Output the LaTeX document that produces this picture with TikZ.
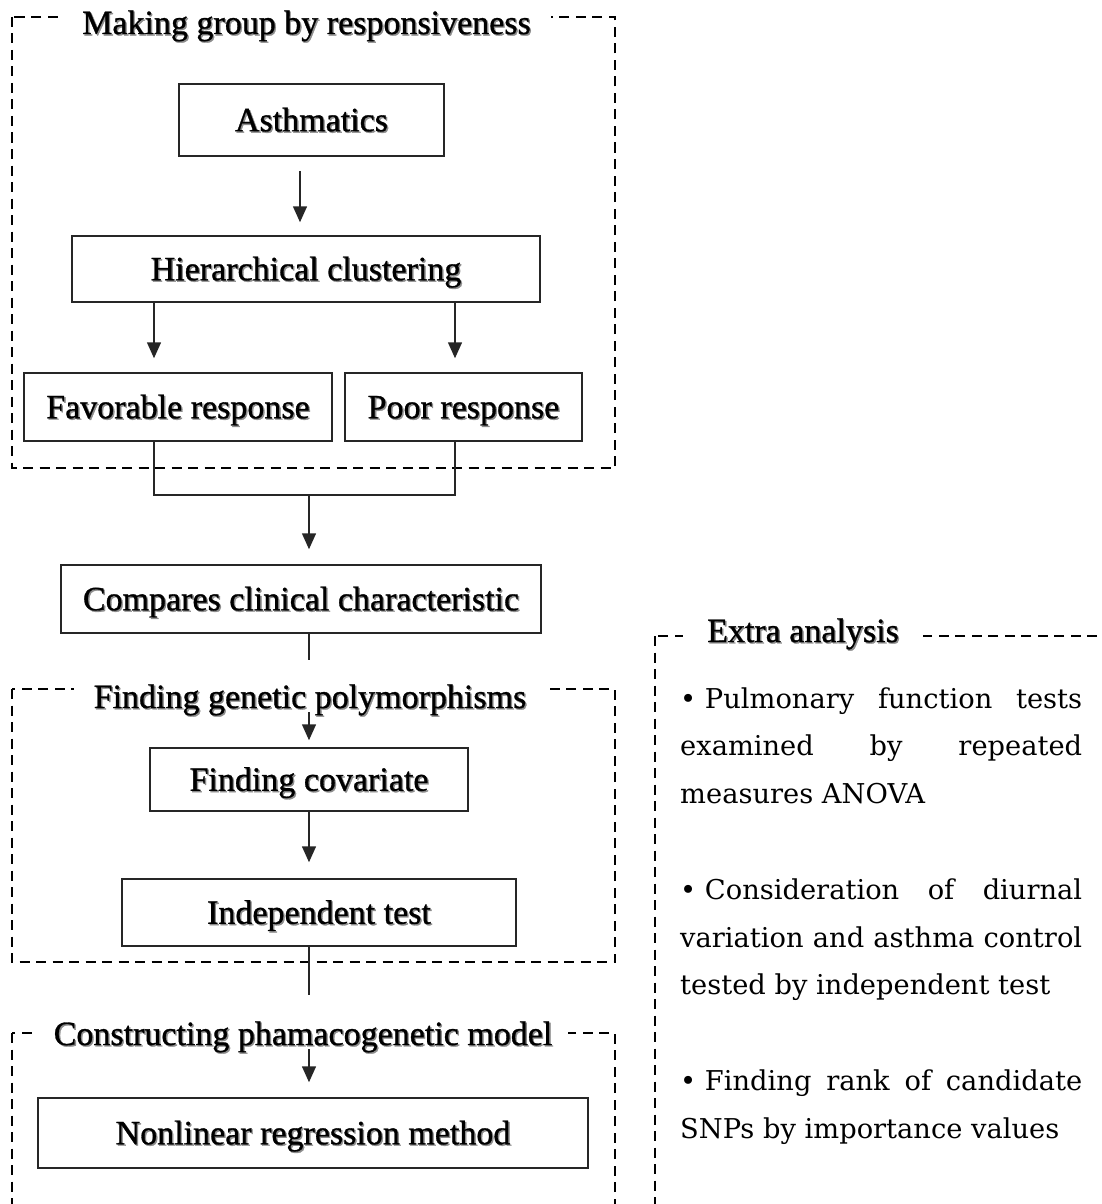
\documentclass[tikz,border=0pt]{standalone}
\usepackage{fontspec}
\setmainfont{Liberation Serif}
\newfontfamily\bxfont[FakeBold=0.9]{Liberation Serif}
\newfontfamily\extfont{DejaVu Serif}
\usetikzlibrary{arrows.meta}
\newcommand\shd[1]{\leavevmode\rlap{\kern1.4pt\raisebox{-1.4pt}{\textcolor{black!45}{#1}}}#1}
\begin{document}
\begin{tikzpicture}[x=1pt,y=-1pt,
  box/.style={draw=black!85, line width=1.5pt, inner sep=0pt, text height=22.5pt, text depth=0pt, font=\bxfont\fontsize{34}{40}\selectfont},
  ttl/.style={fill=white, inner xsep=20pt, inner ysep=0pt, anchor=base, font=\bxfont\fontsize{34}{40}\selectfont},
  frame/.style={draw=black, line width=2.8pt, dash pattern=on 10pt off 6.5pt},
  conn/.style={draw=black!85, line width=1.5pt},
  arr/.style={conn, -{Triangle[width=14pt,length=16pt]}}]
\useasboundingbox (0,0) rectangle (1101,1204);
\clip (0,0) rectangle (1101,1204);
% dashed group frames
\draw[frame] (12,17) rectangle (615,468);
\draw[frame] (12,689) rectangle (615,962);
\draw[frame] (12,1033) rectangle (615,1240);
\draw[frame] (655,636) rectangle (1130,1240);
% boxes
\node[box, minimum width=265pt, minimum height=72pt] (asth) at (311.5,120) {\shd{Asthmatics}};
\node[box, minimum width=468pt, minimum height=66pt] (hier) at (306,269) {\shd{Hierarchical clustering}};
\node[box, minimum width=308pt, minimum height=68pt] (fav) at (178,407) {\shd{Favorable response}};
\node[box, minimum width=237pt, minimum height=68pt] (poor) at (463.5,407) {\shd{Poor response}};
\node[box, minimum width=480pt, minimum height=68pt] (comp) at (301,599) {\shd{Compares clinical characteristic}};
\node[box, minimum width=318pt, minimum height=63pt] (cov) at (309,779.5) {\shd{Finding covariate}};
\node[box, minimum width=394pt, minimum height=67pt] (indep) at (319,912.5) {\shd{Independent test}};
\node[box, minimum width=550pt, minimum height=70pt] (nonlin) at (313,1133) {\shd{Nonlinear regression method}};
% helper coordinates
\coordinate (xa) at (300,0);
\coordinate (xl) at (154,0);
\coordinate (xr) at (455,0);
\coordinate (join) at (309,495);
% connectors
\draw[arr, shorten <=14pt, shorten >=13pt] (asth.south -| xa) -- (hier.north -| xa);
\draw[arr, shorten >=14pt] (hier.south -| xl) -- (fav.north -| xl);
\draw[arr, shorten >=14pt] (hier.south -| xr) -- (poor.north -| xr);
\draw[conn] (fav.south -| xl) |- (join) -| (poor.south -| xr);
\draw[arr, shorten >=15pt] (join) -- (comp.north -| join);
\draw[arr, shorten >=7pt] (comp.south -| join) -- (cov.north -| join);
\draw[arr, shorten >=16pt] (cov.south -| join) -- (indep.north -| join);
\draw[arr, shorten >=15pt] (indep.south -| join) -- (nonlin.north -| join);
% group titles
\node[ttl, text height=33pt, text depth=8pt] (t1) at (306.5,34) {\shd{Making group by responsiveness}};
\node[ttl, text height=48pt, text depth=4pt] (t2) at (310,708) {\shd{Finding genetic polymorphisms}};
\node[ttl, text height=50pt, text depth=4pt, inner xsep=16pt] (t3) at (303,1045) {\shd{Constructing phamacogenetic model}};
\node[ttl, text height=30pt, text depth=4pt, inner xsep=24pt] (t4) at (803,642) {\shd{Extra analysis}};
% extra analysis text
\node[anchor=base west, inner sep=0pt, font=\extfont\fontsize{27.3}{47.8}\selectfont] (extra) at (680,708) {\vtop{\hsize=402pt \baselineskip=47.8pt \lineskiplimit=-100pt
\hbox to 402pt{\mbox{• Pulmonary}\hfill function\hfill tests}
\hbox to 402pt{examined\hfill by\hfill repeated}
\hbox{measures ANOVA}
\hbox{}
\hbox to 402pt{\mbox{• Consideration}\hfill of\hfill diurnal}
\hbox to 402pt{variation\hfill and\hfill asthma\hfill control}
\hbox{tested by independent test}
\hbox{}
\hbox to 402pt{\mbox{• Finding}\hfill rank\hfill of\hfill candidate}
\hbox{SNPs by importance values}}};
\end{tikzpicture}
\end{document}
